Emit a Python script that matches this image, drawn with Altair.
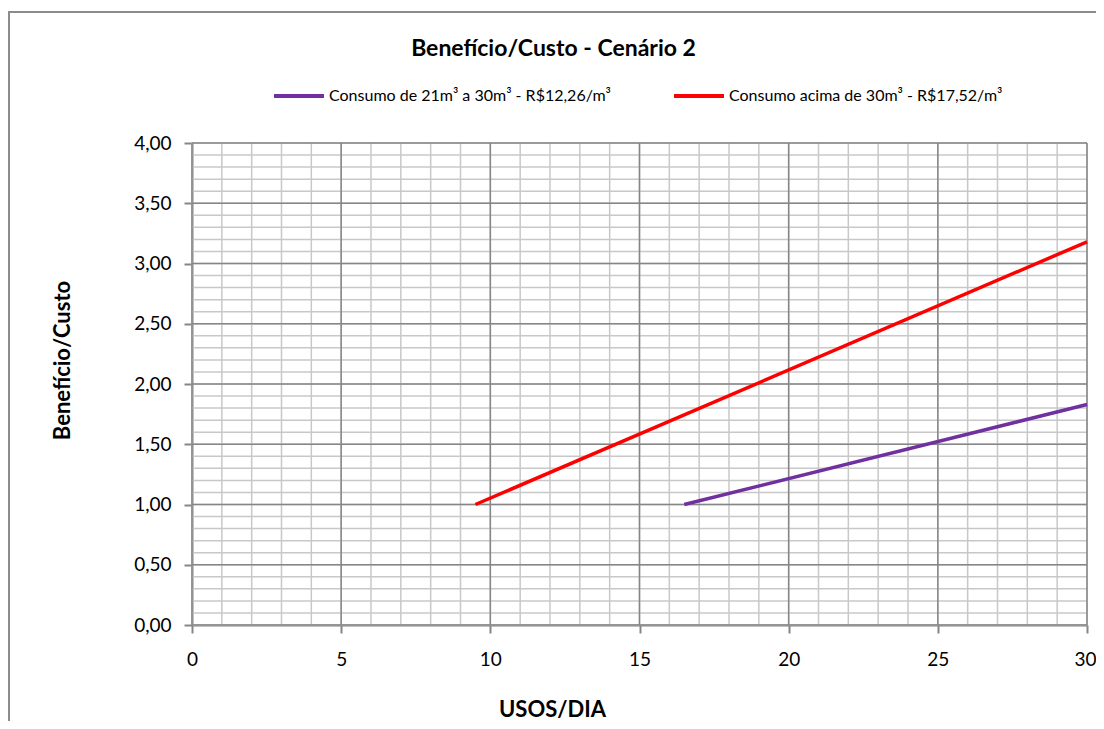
import altair as alt
import pandas as pd

# ---- data ----
series_names = ["Consumo de 21m³ a 30m³ -  R$12,26/m³", "Consumo acima de 30m³ - R$17,52/m³"]
series_colors = ["#7030a0", "#ff0000"]
usos_s1 = [16.5, 30.0]
bc_s1 = [1.00, 1.83]
usos_s2 = [9.5, 30.0]
bc_s2 = [1.00, 3.18]

x_minor = list(range(0, 31))
x_major = list(range(0, 31, 5))
y_minor = [round(i * 0.1, 1) for i in range(41)]
y_major = [round(i * 0.5, 1) for i in range(9)]

lines_df = pd.DataFrame(
    {
        "serie": [series_names[0]] * len(usos_s1) + [series_names[1]] * len(usos_s2),
        "usos": usos_s1 + usos_s2,
        "bc": bc_s1 + bc_s2,
    }
)

FONT = "Lato"
MINOR = "#c8c8c8"
MAJOR = "#868686"

xscale = alt.Scale(domain=[0, 30], nice=False, zero=False)
yscale = alt.Scale(domain=[0, 4], nice=False, zero=False)

x_axis = alt.Axis(
    values=x_major,
    title="USOS/DIA",
    titleX=360,
    titleY=96,
    titleBaseline="bottom",
    titleAlign="center",
    labelPadding=17,
    labelFlush=False,
    labelOffset={"condition": {"test": "datum.value == 30", "value": -2}, "value": 0},
)
y_axis = alt.Axis(
    values=y_major,
    title="Benefício/Custo",
    titleX=-130,
    titleY=217,
    titleBaseline="middle",
    titleAlign="center",
    titleAngle=-90,
    labelPadding=13,
    labelFlush=False,
    labelExpr="replace(format(datum.value, '.2f'), '.', ',')",
)

vminor = alt.Chart(pd.DataFrame({"usos": x_minor})).mark_rule(color=MINOR, strokeWidth=1.5).encode(
    x=alt.X("usos:Q", scale=xscale, axis=x_axis)
)
hminor = alt.Chart(pd.DataFrame({"bc": y_minor})).mark_rule(color=MINOR, strokeWidth=1.5).encode(
    y=alt.Y("bc:Q", scale=yscale, axis=y_axis)
)
vmajor = alt.Chart(pd.DataFrame({"usos": x_major})).mark_rule(color=MAJOR, strokeWidth=1.5).encode(
    x=alt.X("usos:Q", scale=xscale, axis=x_axis)
)
hmajor = alt.Chart(pd.DataFrame({"bc": y_major})).mark_rule(color=MAJOR, strokeWidth=1.5).encode(
    y=alt.Y("bc:Q", scale=yscale, axis=y_axis)
)

border = alt.Chart(pd.DataFrame({"k": [0]})).mark_rect(
    fill=None, stroke="#8c8c8c", strokeWidth=2
).encode(
    x=alt.value(-183), x2=alt.value(1000), y=alt.value(-131), y2=alt.value(700)
)

lines = alt.Chart(lines_df).mark_line(strokeWidth=3.5).encode(
    x=alt.X("usos:Q", scale=xscale, axis=x_axis),
    y=alt.Y("bc:Q", scale=yscale, axis=y_axis),
    color=alt.Color(
        "serie:N",
        scale=alt.Scale(domain=series_names, range=series_colors),
        sort=series_names,
        legend=alt.Legend(
            orient="none",
            legendX=80,
            legendY=-74,
            direction="horizontal",
            title=None,
            symbolType="stroke",
            symbolSize=2500,
            symbolStrokeWidth=4,
            labelFont=FONT,
            labelFontSize=16,
            labelColor="#000000",
            labelOffset=3,
            columnPadding=50,
            labelLimit=400,
        ),
    ),
)

chart = (
    alt.layer(border, vminor, hminor, vmajor, hmajor, lines)
    .properties(
        width=895,
        height=482,
        autosize=alt.AutoSizeParams(type="none"),
        padding={"left": 184, "top": 135, "right": 9, "bottom": 96},
        title=alt.TitleParams(
            "Benefício/Custo - Cenário 2",
            font=FONT,
            fontSize=23,
            fontWeight="bold",
            color="#000000",
            anchor="middle",
            frame="group",
            dx=-86,
            offset=-50,
        ),
    )
    .configure_view(stroke=None)
    .configure_axis(
        labelFont=FONT,
        labelFontSize=19,
        labelColor="#000000",
        titleFont=FONT,
        titleFontSize=22,
        titleFontWeight="bold",
        titleColor="#000000",
        tickColor=MAJOR,
        tickWidth=2,
        tickSize=8,
        domainColor=MAJOR,
        domainWidth=2,
        grid=False,
    )
)

chart.save("out.html", embed_options={"renderer": "svg", "actions": False})
